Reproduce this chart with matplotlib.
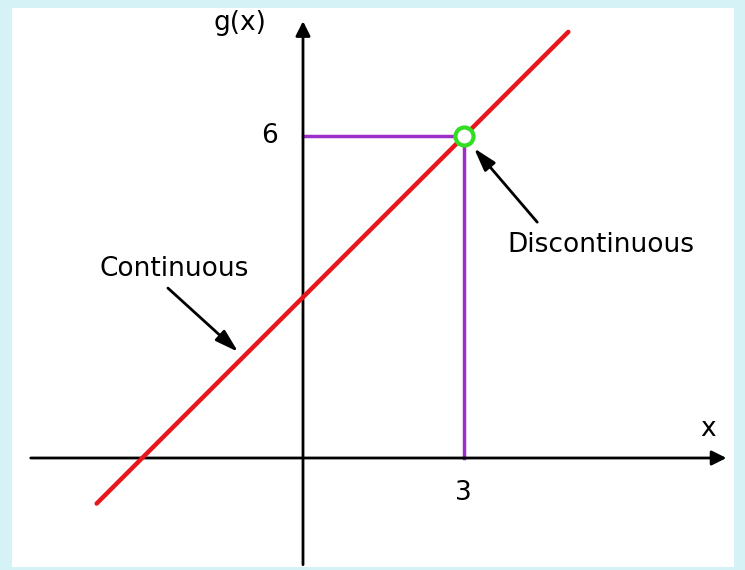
import matplotlib.pyplot as plt
from matplotlib.patches import Rectangle

# data
line_x = [-3.85, 4.95]
line_y = [-0.85, 7.95]
hole_x = 3
hole_y = 6
tick_x_label = "3"
tick_y_label = "6"

unit = 53.6
x0_px, y0_px = 303, 458

fig = plt.figure(figsize=(7.45, 5.7), dpi=100)
fig.patch.set_facecolor('#d5f2f7')
ax = fig.add_axes([0, 0, 1, 1])
ax.set_xlim(-x0_px / unit, (745 - x0_px) / unit)
ax.set_ylim(-(570 - y0_px) / unit, y0_px / unit)
ax.axis('off')

# white panel
ax.add_patch(Rectangle((12 / 745, 3 / 570), 722 / 745, 559 / 570,
                       transform=fig.transFigure, facecolor='white',
                       edgecolor='none', zorder=0))

# axes with arrows
ax.annotate('', xy=(7.9, 0), xytext=(-5.08, 0),
            arrowprops=dict(arrowstyle='-|>', color='black', lw=2,
                            mutation_scale=22, shrinkA=0, shrinkB=0))
ax.annotate('', xy=(0, 8.15), xytext=(0, -1.99),
            arrowprops=dict(arrowstyle='-|>', color='black', lw=2,
                            mutation_scale=22, shrinkA=0, shrinkB=0))

# guide lines
ax.plot([0, hole_x], [hole_y, hole_y], color='#9b30c8', lw=2.5, zorder=2)
ax.plot([hole_x, hole_x], [hole_y, 0], color='#9b30c8', lw=2.5, zorder=2)

# function line
ax.plot(line_x, line_y, color='#e8161b', lw=3.2, solid_capstyle='round', zorder=3)
ax.plot(hole_x, hole_y, 'o', ms=13, mfc='white', mec='#33dd22', mew=3, zorder=4)

fs = 19
ax.text(-1.18, 8.12, 'g(x)', fontsize=fs, ha='center', va='center')
ax.text(-0.62, hole_y, tick_y_label, fontsize=fs, ha='center', va='center')
ax.text(hole_x, -0.65, tick_x_label, fontsize=fs, ha='center', va='center')
ax.text(7.55, 0.55, 'x', fontsize=fs, ha='center', va='center')

ax.text(-2.4, 3.52, 'Continuous', fontsize=fs, ha='center', va='center')
ax.text(5.55, 3.98, 'Discontinuous', fontsize=fs, ha='center', va='center')

head = '-|>,head_width=0.3,head_length=1.0'
ax.annotate('', xy=(-1.21, 1.98), xytext=(-2.52, 3.17),
            arrowprops=dict(arrowstyle=head, color='black', lw=2,
                            mutation_scale=14, shrinkA=0, shrinkB=0))
ax.annotate('', xy=(3.19, 5.78), xytext=(4.37, 4.40),
            arrowprops=dict(arrowstyle=head, color='black', lw=2,
                            mutation_scale=14, shrinkA=0, shrinkB=0))

plt.savefig('out.png', dpi=100, facecolor=fig.get_facecolor())
plt.close()
